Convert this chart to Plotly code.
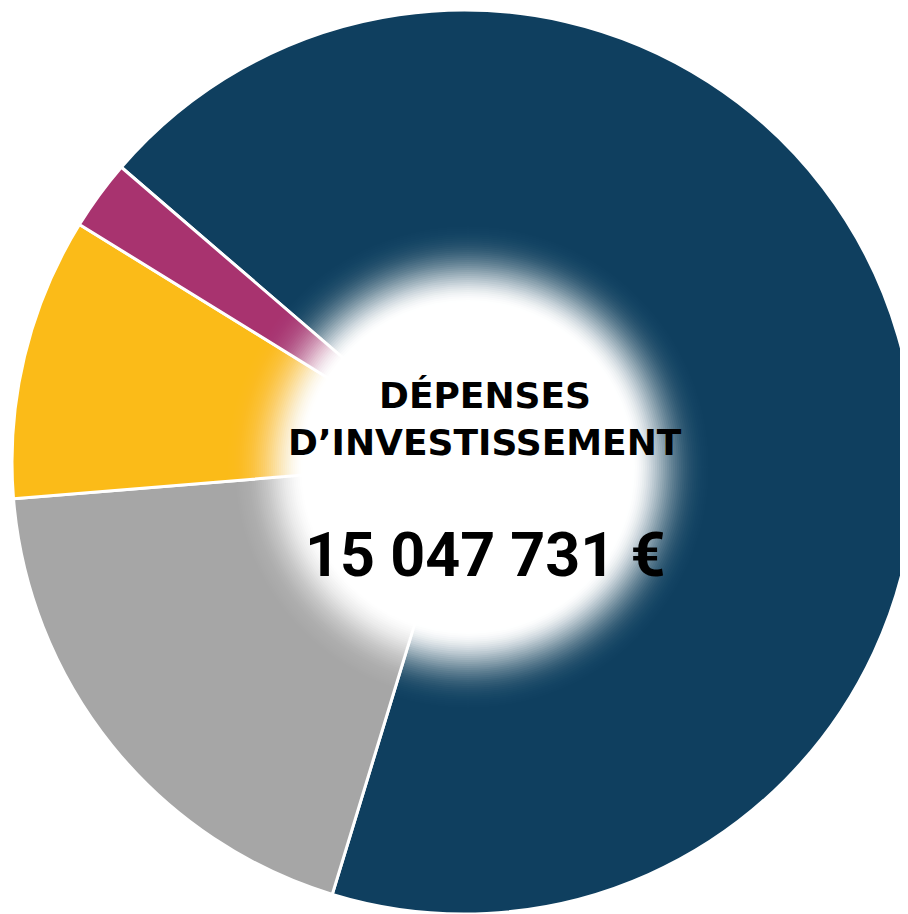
import math
import plotly.graph_objects as go

# investment spending split (euros)
labels = ["Poste 1", "Poste 2", "Poste 3", "Poste 4"]
values = [10292648, 2859069, 1519821, 376193]
colors = ["#0f3f5f", "#a6a6a6", "#fbbb18", "#a8336f"]

title_lines = ["DÉPENSES", "D’INVESTISSEMENT"]
total_label = "15 047 731 €"

W, H = 908, 914

fig = go.Figure(go.Pie(
    labels=labels,
    values=values,
    sort=False,
    direction="clockwise",
    rotation=-49.3,
    marker=dict(colors=colors, line=dict(color="white", width=3)),
    textinfo="none",
    hoverinfo="label+value+percent",
    domain=dict(x=[4 / W, 1], y=[1 - 906 / H, 1 - 2 / H]),
    showlegend=False,
))

# soft white glow in the middle: stacked translucent white discs
cx, cy = 460 / W, 1 - 459 / H
r_in, r_out, n, s = 165, 265, 50, 42
prev = 0.0
for k in range(n + 1):
    r = r_out - (r_out - r_in) * k / n
    w = math.exp(-((r - r_in) / s) ** 2)
    if k == n:
        a = 1.0
    else:
        a = 1 - (1 - w) / (1 - prev)
    prev = w
    if a <= 0:
        continue
    fig.add_shape(type="circle", xref="paper", yref="paper",
                  xsizemode="pixel", ysizemode="pixel",
                  xanchor=cx, yanchor=cy,
                  x0=-r, x1=r, y0=-r, y1=r,
                  fillcolor="white", opacity=a, line_width=0, layer="above")

tx = 477 / W
fig.add_annotation(x=tx, y=1 - 387 / H, xref="paper", yref="paper", text=title_lines[0],
                   showarrow=False, font=dict(family="DejaVu Sans", size=36, color="#000000", weight="bold"))
fig.add_annotation(x=tx, y=1 - 435 / H, xref="paper", yref="paper", text=title_lines[1],
                   showarrow=False, font=dict(family="DejaVu Sans", size=36, color="#000000", weight="bold"))
fig.add_annotation(x=tx, y=1 - 547 / H, xref="paper", yref="paper", text=total_label,
                   showarrow=False, font=dict(family="Roboto", size=61, color="#000000", weight="bold"))

fig.update_layout(width=W, height=H, margin=dict(l=0, r=0, t=0, b=0),
                  paper_bgcolor="white", plot_bgcolor="white")

fig.write_html("out.html")
